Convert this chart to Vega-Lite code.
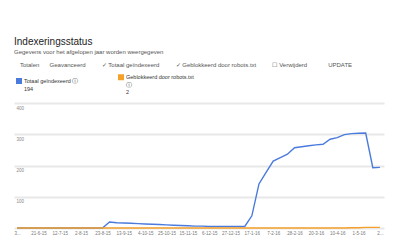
{
  "$schema": "https://vega.github.io/schema/vega-lite/v6.json",
  "width": 370,
  "height": 125,
  "autosize": {"type": "none"},
  "padding": {"left": 14, "top": 103, "right": 16, "bottom": 22},
  "background": "white",
  "title": {
    "text": "Indexeringsstatus",
    "subtitle": ["Gegevens voor het afgelopen jaar worden weergegeven", "\u200b\u2003Totalen\u2003\u2002\u2009Geavanceerd\u2003\u2003\u2002\u2009\u2713 Totaal geïndexeerd\u2003\u2003\u2002\u2009\u2713 Geblokkeerd door robots.txt\u2003\u2003\u2002\u2009\u2610 Verwijderd\u2003\u2003\u2003\u2002UPDATE"],
    "anchor": "start",
    "frame": "group",
    "font": "Liberation Sans",
    "fontSize": 10,
    "fontWeight": "normal",
    "color": "#222222",
    "subtitleFont": "Liberation Sans",
    "subtitleFontSize": 6,
    "subtitleColor": "#555555",
    "subtitlePadding": 2,
    "subtitleLineHeight": 13,
    "offset": 6
  },
  "data": {
    "values": [
      {"date": "2015-05-31", "series": "Totaal geïndexeerd", "value": 0},
      {"date": "2015-06-07", "series": "Totaal geïndexeerd", "value": 0},
      {"date": "2015-06-14", "series": "Totaal geïndexeerd", "value": 0},
      {"date": "2015-06-21", "series": "Totaal geïndexeerd", "value": 0},
      {"date": "2015-06-28", "series": "Totaal geïndexeerd", "value": 0},
      {"date": "2015-07-05", "series": "Totaal geïndexeerd", "value": 0},
      {"date": "2015-07-12", "series": "Totaal geïndexeerd", "value": 0},
      {"date": "2015-07-19", "series": "Totaal geïndexeerd", "value": 0},
      {"date": "2015-07-26", "series": "Totaal geïndexeerd", "value": 0},
      {"date": "2015-08-02", "series": "Totaal geïndexeerd", "value": 0},
      {"date": "2015-08-09", "series": "Totaal geïndexeerd", "value": 0},
      {"date": "2015-08-16", "series": "Totaal geïndexeerd", "value": 0},
      {"date": "2015-08-23", "series": "Totaal geïndexeerd", "value": 0},
      {"date": "2015-08-30", "series": "Totaal geïndexeerd", "value": 19},
      {"date": "2015-09-06", "series": "Totaal geïndexeerd", "value": 17},
      {"date": "2015-09-13", "series": "Totaal geïndexeerd", "value": 16},
      {"date": "2015-09-20", "series": "Totaal geïndexeerd", "value": 15},
      {"date": "2015-09-27", "series": "Totaal geïndexeerd", "value": 14},
      {"date": "2015-10-04", "series": "Totaal geïndexeerd", "value": 13},
      {"date": "2015-10-11", "series": "Totaal geïndexeerd", "value": 12},
      {"date": "2015-10-18", "series": "Totaal geïndexeerd", "value": 11},
      {"date": "2015-10-25", "series": "Totaal geïndexeerd", "value": 10},
      {"date": "2015-11-01", "series": "Totaal geïndexeerd", "value": 9},
      {"date": "2015-11-08", "series": "Totaal geïndexeerd", "value": 8},
      {"date": "2015-11-15", "series": "Totaal geïndexeerd", "value": 7},
      {"date": "2015-11-22", "series": "Totaal geïndexeerd", "value": 6},
      {"date": "2015-11-29", "series": "Totaal geïndexeerd", "value": 6},
      {"date": "2015-12-06", "series": "Totaal geïndexeerd", "value": 5},
      {"date": "2015-12-13", "series": "Totaal geïndexeerd", "value": 5},
      {"date": "2015-12-20", "series": "Totaal geïndexeerd", "value": 5},
      {"date": "2015-12-27", "series": "Totaal geïndexeerd", "value": 5},
      {"date": "2016-01-03", "series": "Totaal geïndexeerd", "value": 5},
      {"date": "2016-01-10", "series": "Totaal geïndexeerd", "value": 5},
      {"date": "2016-01-17", "series": "Totaal geïndexeerd", "value": 39},
      {"date": "2016-01-24", "series": "Totaal geïndexeerd", "value": 141},
      {"date": "2016-01-31", "series": "Totaal geïndexeerd", "value": 178},
      {"date": "2016-02-07", "series": "Totaal geïndexeerd", "value": 214},
      {"date": "2016-02-14", "series": "Totaal geïndexeerd", "value": 225},
      {"date": "2016-02-21", "series": "Totaal geïndexeerd", "value": 236},
      {"date": "2016-02-28", "series": "Totaal geïndexeerd", "value": 257},
      {"date": "2016-03-06", "series": "Totaal geïndexeerd", "value": 260},
      {"date": "2016-03-13", "series": "Totaal geïndexeerd", "value": 263},
      {"date": "2016-03-20", "series": "Totaal geïndexeerd", "value": 266},
      {"date": "2016-03-27", "series": "Totaal geïndexeerd", "value": 268},
      {"date": "2016-04-03", "series": "Totaal geïndexeerd", "value": 284},
      {"date": "2016-04-10", "series": "Totaal geïndexeerd", "value": 289},
      {"date": "2016-04-17", "series": "Totaal geïndexeerd", "value": 299},
      {"date": "2016-04-24", "series": "Totaal geïndexeerd", "value": 302},
      {"date": "2016-05-01", "series": "Totaal geïndexeerd", "value": 303},
      {"date": "2016-05-08", "series": "Totaal geïndexeerd", "value": 304},
      {"date": "2016-05-15", "series": "Totaal geïndexeerd", "value": 193},
      {"date": "2016-05-22", "series": "Totaal geïndexeerd", "value": 194},
      {"date": "2015-05-31", "series": "Geblokkeerd door robots.txt", "value": 0},
      {"date": "2015-06-07", "series": "Geblokkeerd door robots.txt", "value": 0},
      {"date": "2015-06-14", "series": "Geblokkeerd door robots.txt", "value": 0},
      {"date": "2015-06-21", "series": "Geblokkeerd door robots.txt", "value": 0},
      {"date": "2015-06-28", "series": "Geblokkeerd door robots.txt", "value": 0},
      {"date": "2015-07-05", "series": "Geblokkeerd door robots.txt", "value": 0},
      {"date": "2015-07-12", "series": "Geblokkeerd door robots.txt", "value": 0},
      {"date": "2015-07-19", "series": "Geblokkeerd door robots.txt", "value": 0},
      {"date": "2015-07-26", "series": "Geblokkeerd door robots.txt", "value": 0},
      {"date": "2015-08-02", "series": "Geblokkeerd door robots.txt", "value": 0},
      {"date": "2015-08-09", "series": "Geblokkeerd door robots.txt", "value": 0},
      {"date": "2015-08-16", "series": "Geblokkeerd door robots.txt", "value": 0},
      {"date": "2015-08-23", "series": "Geblokkeerd door robots.txt", "value": 0},
      {"date": "2015-08-30", "series": "Geblokkeerd door robots.txt", "value": 0},
      {"date": "2015-09-06", "series": "Geblokkeerd door robots.txt", "value": 0},
      {"date": "2015-09-13", "series": "Geblokkeerd door robots.txt", "value": 0},
      {"date": "2015-09-20", "series": "Geblokkeerd door robots.txt", "value": 0},
      {"date": "2015-09-27", "series": "Geblokkeerd door robots.txt", "value": 0},
      {"date": "2015-10-04", "series": "Geblokkeerd door robots.txt", "value": 0},
      {"date": "2015-10-11", "series": "Geblokkeerd door robots.txt", "value": 0},
      {"date": "2015-10-18", "series": "Geblokkeerd door robots.txt", "value": 0},
      {"date": "2015-10-25", "series": "Geblokkeerd door robots.txt", "value": 0},
      {"date": "2015-11-01", "series": "Geblokkeerd door robots.txt", "value": 0},
      {"date": "2015-11-08", "series": "Geblokkeerd door robots.txt", "value": 0},
      {"date": "2015-11-15", "series": "Geblokkeerd door robots.txt", "value": 0},
      {"date": "2015-11-22", "series": "Geblokkeerd door robots.txt", "value": 0},
      {"date": "2015-11-29", "series": "Geblokkeerd door robots.txt", "value": 0},
      {"date": "2015-12-06", "series": "Geblokkeerd door robots.txt", "value": 0},
      {"date": "2015-12-13", "series": "Geblokkeerd door robots.txt", "value": 0},
      {"date": "2015-12-20", "series": "Geblokkeerd door robots.txt", "value": 0},
      {"date": "2015-12-27", "series": "Geblokkeerd door robots.txt", "value": 0},
      {"date": "2016-01-03", "series": "Geblokkeerd door robots.txt", "value": 0},
      {"date": "2016-01-10", "series": "Geblokkeerd door robots.txt", "value": 0},
      {"date": "2016-01-17", "series": "Geblokkeerd door robots.txt", "value": 0},
      {"date": "2016-01-24", "series": "Geblokkeerd door robots.txt", "value": 0},
      {"date": "2016-01-31", "series": "Geblokkeerd door robots.txt", "value": 0},
      {"date": "2016-02-07", "series": "Geblokkeerd door robots.txt", "value": 0},
      {"date": "2016-02-14", "series": "Geblokkeerd door robots.txt", "value": 0},
      {"date": "2016-02-21", "series": "Geblokkeerd door robots.txt", "value": 0},
      {"date": "2016-02-28", "series": "Geblokkeerd door robots.txt", "value": 0},
      {"date": "2016-03-06", "series": "Geblokkeerd door robots.txt", "value": 0},
      {"date": "2016-03-13", "series": "Geblokkeerd door robots.txt", "value": 0},
      {"date": "2016-03-20", "series": "Geblokkeerd door robots.txt", "value": 0},
      {"date": "2016-03-27", "series": "Geblokkeerd door robots.txt", "value": 0},
      {"date": "2016-04-03", "series": "Geblokkeerd door robots.txt", "value": 0},
      {"date": "2016-04-10", "series": "Geblokkeerd door robots.txt", "value": 0},
      {"date": "2016-04-17", "series": "Geblokkeerd door robots.txt", "value": 0},
      {"date": "2016-04-24", "series": "Geblokkeerd door robots.txt", "value": 1},
      {"date": "2016-05-01", "series": "Geblokkeerd door robots.txt", "value": 1},
      {"date": "2016-05-08", "series": "Geblokkeerd door robots.txt", "value": 2},
      {"date": "2016-05-15", "series": "Geblokkeerd door robots.txt", "value": 2},
      {"date": "2016-05-22", "series": "Geblokkeerd door robots.txt", "value": 2}
    ]
  },
  "mark": {"type": "line", "strokeWidth": 1.4, "interpolate": "linear"},
  "encoding": {
    "x": {
      "field": "date",
      "type": "temporal",
      "scale": {
        "type": "utc",
        "domain": [
          {"year": 2015, "month": 5, "date": 28, "utc": true},
          {"year": 2016, "month": 5, "date": 26, "utc": true}
        ]
      },
      "axis": {
        "title": null,
        "values": [
          {"year": 2015, "month": 5, "date": 31, "utc": true},
          {"year": 2015, "month": 6, "date": 21, "utc": true},
          {"year": 2015, "month": 7, "date": 12, "utc": true},
          {"year": 2015, "month": 8, "date": 2, "utc": true},
          {"year": 2015, "month": 8, "date": 23, "utc": true},
          {"year": 2015, "month": 9, "date": 13, "utc": true},
          {"year": 2015, "month": 10, "date": 4, "utc": true},
          {"year": 2015, "month": 10, "date": 25, "utc": true},
          {"year": 2015, "month": 11, "date": 15, "utc": true},
          {"year": 2015, "month": 12, "date": 6, "utc": true},
          {"year": 2015, "month": 12, "date": 27, "utc": true},
          {"year": 2016, "month": 1, "date": 17, "utc": true},
          {"year": 2016, "month": 2, "date": 7, "utc": true},
          {"year": 2016, "month": 2, "date": 28, "utc": true},
          {"year": 2016, "month": 3, "date": 20, "utc": true},
          {"year": 2016, "month": 4, "date": 10, "utc": true},
          {"year": 2016, "month": 5, "date": 1, "utc": true},
          {"year": 2016, "month": 5, "date": 22, "utc": true}
        ],
        "labelExpr": "datum.index == 0 ? '3...' : datum.index == 1 ? '2...' : utcFormat(datum.value, '%-d-%-m-%y')",
        "grid": false,
        "ticks": false,
        "domain": false,
        "labelFont": "Liberation Sans",
        "labelFontSize": 4.5,
        "labelColor": "#777777",
        "labelPadding": 2,
        "labelOverlap": false,
        "labelFlush": false
      }
    },
    "y": {
      "field": "value",
      "type": "quantitative",
      "scale": {"domain": [0, 400]},
      "axis": {
        "title": null,
        "values": [0, 100, 200, 300, 400],
        "labelExpr": "datum.value == 0 ? '' : datum.label",
        "grid": true,
        "gridColor": "#e8e8e8",
        "gridWidth": 2,
        "ticks": false,
        "domain": false,
        "labelAlign": "left",
        "labelBaseline": "top",
        "labelPadding": -2,
        "labelOffset": 2,
        "labelFont": "Liberation Sans",
        "labelFontSize": 4.5,
        "labelColor": "#888888"
      }
    },
    "color": {
      "field": "series",
      "type": "nominal",
      "scale": {
        "domain": ["Totaal geïndexeerd", "Geblokkeerd door robots.txt"],
        "range": ["#4a7bdc", "#f5a02a"]
      },
      "legend": {
        "title": null,
        "orient": "top",
        "direction": "horizontal",
        "offset": 7,
        "symbolType": "square",
        "symbolSize": 9,
        "symbolStrokeWidth": 3,
        "symbolOffset": 2,
        "labelFont": "Liberation Sans",
        "labelFontSize": 5.5,
        "labelColor": "#333333",
        "labelOffset": 2,
        "labelExpr": "datum.label == 'Totaal geïndexeerd' ? ['Totaal geïndexeerd ⓘ', '194'] : ['Geblokkeerd door robots.txt', 'ⓘ', '2']",
        "columnPadding": 34
      }
    },
    "order": {"field": "date", "type": "temporal"}
  },
  "config": {
    "view": {"stroke": null},
    "font": "Liberation Sans"
  }
}
